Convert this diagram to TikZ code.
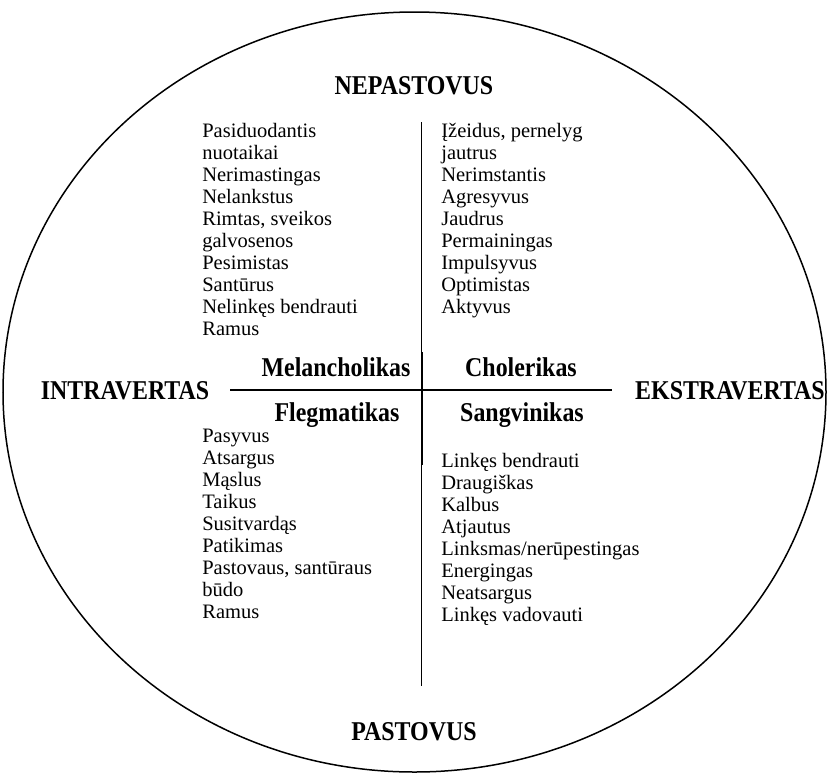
\documentclass[tikz,border=0pt]{standalone}
\usepackage{fontspec}
\setmainfont{Liberation Serif}
\newfontfamily\headfont[FakeStretch=0.88]{Liberation Serif}
\tikzset{
  col/.style={anchor=north west,inner sep=0pt,align=left,font=\fontsize{12.3}{13.2}\selectfont},
  head/.style={anchor=base,inner sep=0pt,font=\headfont\fontsize{16.3}{18}\selectfont\bfseries},
}
\begin{document}
\begin{tikzpicture}[x=0.6pt,y=-0.6pt]
\useasboundingbox(0,0)rectangle(828,775);
\draw[line width=0.9pt](414.5,392)ellipse[x radius=411.5,y radius=380];
%
\node[head](nep)at(414,94){NEPASTOVUS};
\node[head](pas)at(414,740){PASTOVUS};
\node[head](intra)at(125,399){INTRAVERTAS};
\node[head](ekstra)at(730,399){EKSTRAVERTAS};
\node[head](mel)at(336,376){Melancholikas};
\node[head](chol)at(521,376){Cholerikas};
\node[head](fleg)at(337,421){Flegmatikas};
\node[head](sang)at(522,421){Sangvinikas};
%
\node[col](nw)at(202,122){\strut Pasiduodantis\\nuotaikai\\Nerimastingas\\Nelankstus\\Rimtas, sveikos\\galvosenos\\Pesimistas\\Santūrus\\Nelinkęs bendrauti\\Ramus};
\node[col](ne)at(441,122){\strut Įžeidus, pernelyg\\jautrus\\Nerimstantis\\Agresyvus\\Jaudrus\\Permainingas\\Impulsyvus\\Optimistas\\Aktyvus};
\node[col](sw)at(202,427){\strut Pasyvus\\Atsargus\\Mąslus\\Taikus\\Susitvardąs\\Patikimas\\Pastovaus, santūraus\\būdo\\Ramus};
\node[col](se)at(441,452){\strut Linkęs bendrauti\\Draugiškas\\Kalbus\\Atjautus\\Linksmas/nerūpestingas\\Energingas\\Neatsargus\\Linkęs vadovauti};
%
\coordinate(top)at(421,122);
\coordinate(bottom)at(421,686);
\coordinate(mtop)at(422,352);
\coordinate(mbottom)at(422,465);
\coordinate(west)at(230,390);
\coordinate(east)at(612,390);
\draw[line width=0.6pt](top)--(bottom);
\draw[line width=1.2pt](mtop)--(mbottom);
\draw[line width=1.2pt](west)--(east);
\end{tikzpicture}
\end{document}
